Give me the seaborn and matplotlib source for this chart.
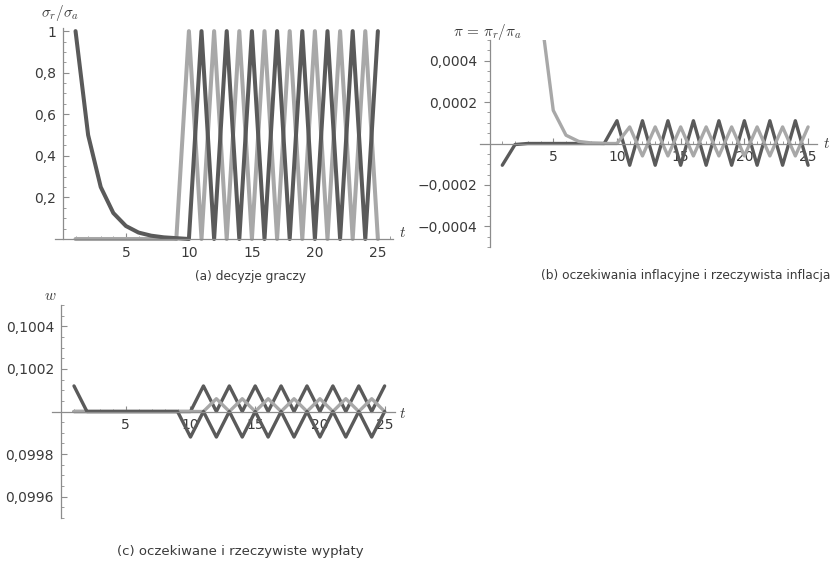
import numpy as np
import matplotlib
matplotlib.use("Agg")
import matplotlib.pyplot as plt
import seaborn as sns
from matplotlib.ticker import MultipleLocator

# data
t = [1, 2, 3, 4, 5, 6, 7, 8, 9, 10, 11, 12, 13, 14, 15, 16, 17, 18, 19, 20, 21, 22, 23, 24, 25]

# (a) decyzje graczy
sigma_dark = [1, 0.5, 0.25, 0.125, 0.0625, 0.031, 0.016, 0.008, 0.004, 0,
              1, 0, 1, 0, 1, 0, 1, 0, 1, 0, 1, 0, 1, 0, 1]
sigma_light = [0, 0, 0, 0, 0, 0, 0, 0, 0, 1,
               0, 1, 0, 1, 0, 1, 0, 1, 0, 1, 0, 1, 0, 1, 0]

# (b) oczekiwania inflacyjne i rzeczywista inflacja
pi_dark = [-0.000105, -0.000005, 0, 0, 0, 0, 0, 0, 0, 0.00011,
           -0.000105, 0.00011, -0.000105, 0.00011, -0.000105, 0.00011, -0.000105, 0.00011,
           -0.000105, 0.00011, -0.000105, 0.00011, -0.000105, 0.00011, -0.000105]
pi_light = [0.04, 0.01, 0.0026, 0.00064, 0.00016, 0.00004, 0.00001, 0.0000025, 0, 0,
            0.00008, -0.00006, 0.00008, -0.00006, 0.00008, -0.00006, 0.00008, -0.00006,
            0.00008, -0.00006, 0.00008, -0.00006, 0.00008, -0.00006, 0.00008]

# (c) oczekiwane i rzeczywiste wypłaty
w_dark_a = [0.10012, 0.1, 0.1, 0.1, 0.1, 0.1, 0.1, 0.1, 0.1, 0.09988,
            0.1, 0.09988, 0.1, 0.09988, 0.1, 0.09988, 0.1, 0.09988,
            0.1, 0.09988, 0.1, 0.09988, 0.1, 0.09988, 0.1]
w_dark_b = [0.1, 0.1, 0.1, 0.1, 0.1, 0.1, 0.1, 0.1, 0.1, 0.1,
            0.10012, 0.1, 0.10012, 0.1, 0.10012, 0.1, 0.10012, 0.1,
            0.10012, 0.1, 0.10012, 0.1, 0.10012, 0.1, 0.10012]
w_light = [0.1, 0.1, 0.1, 0.1, 0.1, 0.1, 0.1, 0.1, 0.1, 0.1,
           0.1, 0.10006, 0.1, 0.10006, 0.1, 0.10006, 0.1, 0.10006,
           0.1, 0.10006, 0.1, 0.10006, 0.1, 0.10006, 0.1]

x_ticks = [5, 10, 15, 20, 25]
a_yticks = [0.2, 0.4, 0.6, 0.8, 1]
a_ylabels = ["0,2", "0,4", "0,6", "0,8", "1"]
b_yticks = [0.0004, 0.0002, -0.0002, -0.0004]
b_ylabels = ["0,0004", "0,0002", "\u22120,0002", "\u22120,0004"]
c_yticks = [0.1004, 0.1002, 0.0998, 0.0996]
c_ylabels = ["0,1004", "0,1002", "0,0998", "0,0996"]

DARK = "#5a5a5a"
LIGHT = "#a8a8a8"
AXIS = "#8c8c8c"
TEXT = "#3a3a3a"

sns.set_style("white")
plt.rcParams["font.family"] = ["DejaVu Sans"]
plt.rcParams["mathtext.fontset"] = "cm"

W, H = 831, 567
fig = plt.figure(figsize=(W / 100, H / 100), dpi=100)


def box(left, top, right, bottom):
    return [left / W, 1 - bottom / H, (right - left) / W, (bottom - top) / H]


def ftext(px, py, s, **kw):
    fig.text(px / W, 1 - py / H, s, color=TEXT, va="center", **kw)


def style_axes(ax, y0, ydir, yminor):
    sns.despine(ax=ax, top=True, right=True)
    ax.spines["left"].set_position(("data", 0))
    ax.spines["bottom"].set_position(("data", y0))
    for s in ("left", "bottom"):
        ax.spines[s].set_color(AXIS)
        ax.spines[s].set_linewidth(0.9)
    ax.set_axisbelow(True)
    ax.xaxis.set_minor_locator(MultipleLocator(1))
    ax.yaxis.set_minor_locator(MultipleLocator(yminor))
    ax.tick_params(axis="x", which="both", direction="in", colors=AXIS, bottom=True,
                   labelcolor=TEXT, labelsize=10, pad=5)
    ax.tick_params(axis="y", which="both", direction=ydir, colors=AXIS, left=True,
                   labelcolor=TEXT, labelsize=10, pad=5)
    ax.tick_params(which="major", length=4, width=0.8)
    ax.tick_params(which="minor", length=2.5, width=0.6)
    ax.set_xticks(x_ticks, [str(v) for v in x_ticks])
    ax.set_xlabel("")
    ax.set_ylabel("")
    ax.patch.set_alpha(0)


# (a)
ax_a = fig.add_axes(box(55, 28, 393, 239))
sns.lineplot(x=t, y=sigma_light, color=LIGHT, lw=2.9, ax=ax_a, clip_on=False)
sns.lineplot(x=t, y=sigma_dark, color=DARK, lw=2.9, ax=ax_a, clip_on=False)
ax_a.set_xlim(-0.63, 26.2)
ax_a.set_ylim(0, 1.015)
style_axes(ax_a, 0, "in", 0.05)
ax_a.set_yticks(a_yticks, a_ylabels)
ftext(60, 13, r"$\sigma_r/\sigma_a$", ha="center", fontsize=11)
ftext(403, 233, r"$t$", ha="center", fontsize=11)
ftext(250, 277, "(a) decyzje graczy", ha="center", fontsize=8.7)

# (b)
ax_b = fig.add_axes(box(480, 40, 817, 247))
sns.lineplot(x=t, y=pi_dark, color=DARK, lw=2.4, ax=ax_b)
sns.lineplot(x=t, y=pi_light, color=LIGHT, lw=2.4, ax=ax_b)
ax_b.set_xlim(-0.75, 25.7)
ax_b.set_ylim(-0.0005, 0.0005)
style_axes(ax_b, 0, "out", 0.00005)
ax_b.set_yticks(b_yticks, b_ylabels)
ftext(487, 32, r"$\pi\,=\,\pi_r/\pi_a$", ha="center", fontsize=11)
ftext(827, 143, r"$t$", ha="center", fontsize=11)
ftext(830, 276, "(b) oczekiwania inflacyjne i rzeczywista inflacja", ha="right", fontsize=8.8)

# (c)
ax_c = fig.add_axes(box(52, 305, 395, 518))
sns.lineplot(x=t, y=w_dark_b, color=DARK, lw=2.4, ax=ax_c)
sns.lineplot(x=t, y=w_light, color=LIGHT, lw=2.4, ax=ax_c)
sns.lineplot(x=t, y=w_dark_a, color=DARK, lw=2.4, ax=ax_c)
ax_c.set_xlim(-0.7, 25.8)
ax_c.set_ylim(0.0995, 0.1005)
style_axes(ax_c, 0.1, "in", 0.00005)
ax_c.set_yticks(c_yticks, c_ylabels)
ftext(50, 296, r"$w$", ha="center", fontsize=11)
ftext(403, 413, r"$t$", ha="center", fontsize=11)
ftext(240, 552, "(c) oczekiwane i rzeczywiste wypłaty", ha="center", fontsize=9.5)

fig.savefig("out.png", dpi=100)
